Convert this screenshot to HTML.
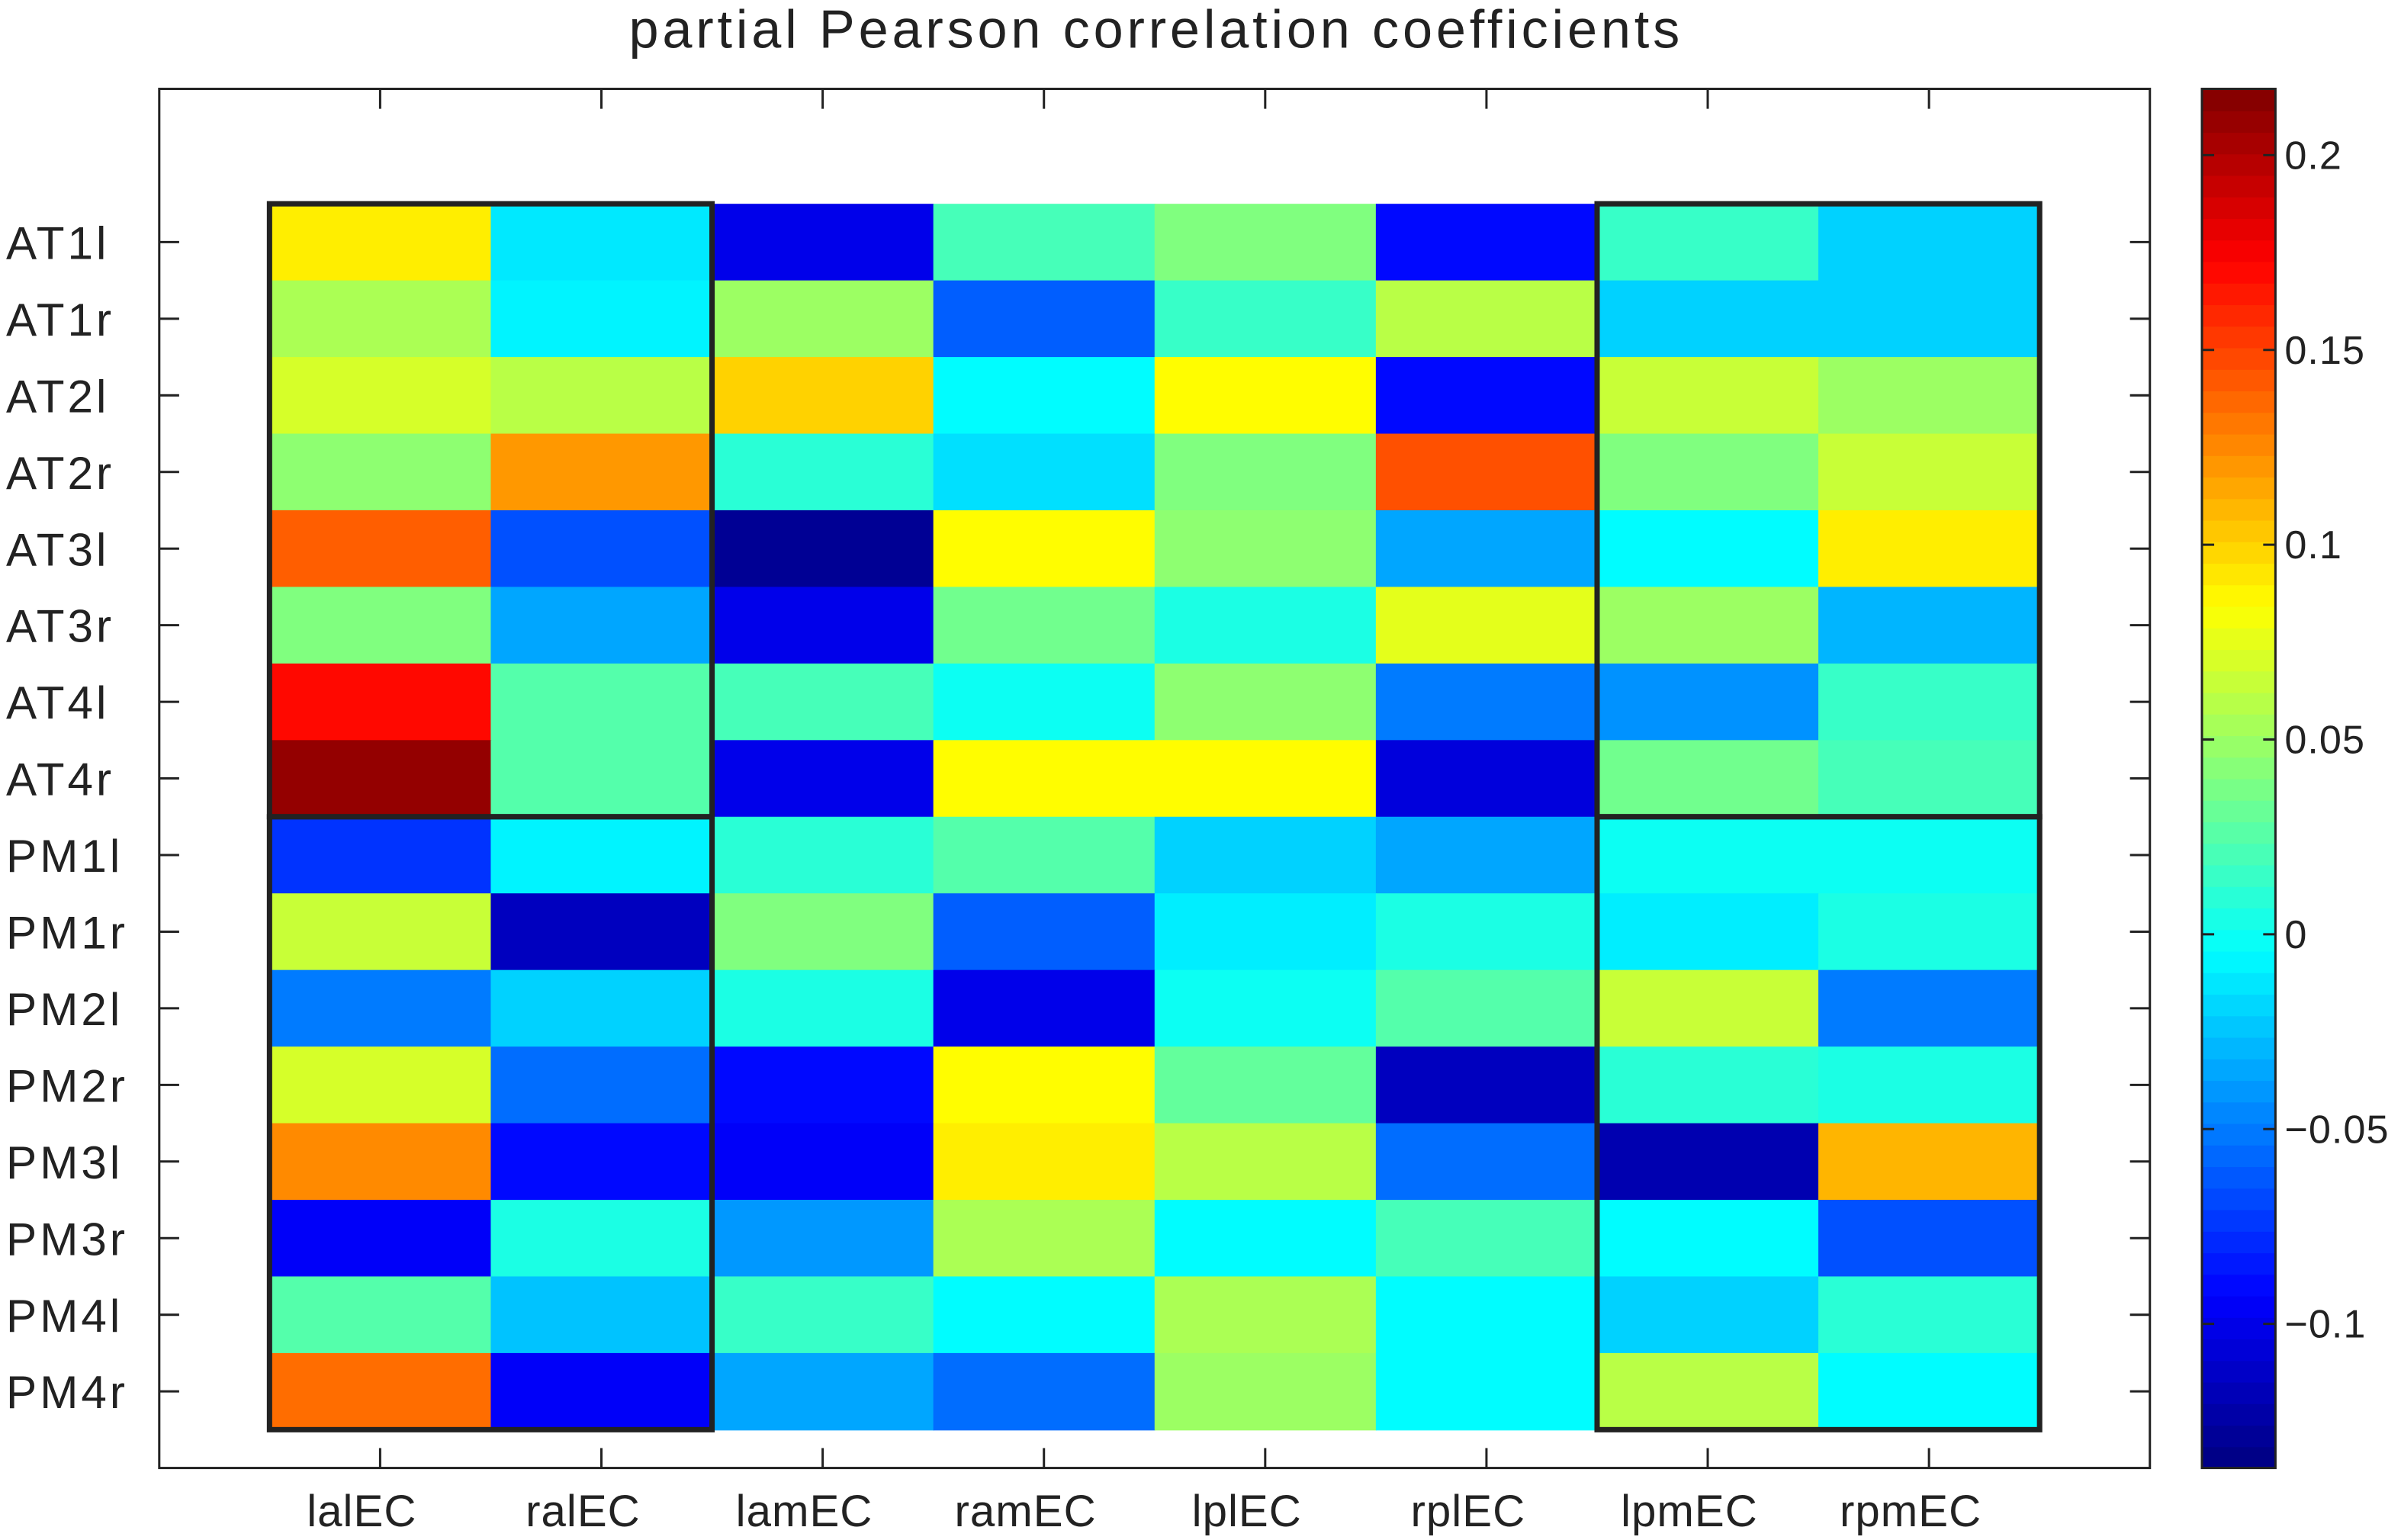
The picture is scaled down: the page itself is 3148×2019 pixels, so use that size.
<!DOCTYPE html>
<html><head><meta charset="utf-8"><style>
html,body{margin:0;padding:0;background:#fff;}
svg{display:block;font-family:"Liberation Sans",sans-serif;}
</style></head><body>
<svg id="chart" width="3148" height="2019" viewBox="0 0 1568 1005" preserveAspectRatio="none" xmlns="http://www.w3.org/2000/svg">
<rect x="0" y="0" width="1568" height="1005" fill="#fff"/>
<text x="755" y="31" font-size="35" letter-spacing="2.4" text-anchor="middle" fill="#222">partial Pearson correlation coefficients</text>
<rect x="104" y="58" width="1300" height="900" fill="none" stroke="#222" stroke-width="1.5"/>
<g id="cells"></g>
<g id="boxes"></g>
<g id="ticks"></g>
<g id="cbar"></g>
</svg>
<script>
const columns = ["lalEC","ralEC","lamEC","ramEC","lplEC","rplEC","lpmEC","rpmEC"];
const rows = ["AT1l","AT1r","AT2l","AT2r","AT3l","AT3r","AT4l","AT4r","PM1l","PM1r","PM2l","PM2r","PM3l","PM3r","PM4l","PM4r"];
const values = [
[0.09,-0.012,-0.10,0.02,0.04,-0.09,0.015,-0.02],
[0.055,-0.008,0.05,-0.06,0.015,0.06,-0.02,-0.02],
[0.07,0.06,0.10,-0.005,0.085,-0.09,0.065,0.05],
[0.045,0.12,0.01,-0.015,0.04,0.145,0.04,0.065],
[0.14,-0.065,-0.13,0.085,0.045,-0.035,-0.005,0.09],
[0.04,-0.035,-0.10,0.035,0.005,0.075,0.05,-0.03],
[0.17,0.025,0.02,0.0,0.045,-0.05,-0.042,0.015],
[0.21,0.025,-0.10,0.085,0.085,-0.105,0.035,0.02],
[-0.075,-0.008,0.01,0.025,-0.02,-0.035,0.0,0.0],
[0.065,-0.115,0.04,-0.06,-0.01,0.005,-0.01,0.005],
[-0.05,-0.02,0.005,-0.10,0.0,0.025,0.065,-0.05],
[0.07,-0.055,-0.09,0.085,0.03,-0.115,0.01,0.005],
[0.125,-0.09,-0.095,0.09,0.06,-0.055,-0.12,0.11],
[-0.095,0.005,-0.04,0.055,-0.005,0.02,-0.005,-0.065],
[0.025,-0.025,0.015,-0.005,0.055,-0.005,-0.02,0.01],
[0.135,-0.095,-0.035,-0.055,0.05,-0.005,0.06,-0.005]
];
const cbarTicks = [-0.1,-0.05,0,0.05,0.1,0.15,0.2];
const cbarTickLabels = ["\u22120.1","\u22120.05","0","0.05","0.1","0.15","0.2"];
const vmin = -0.137, vmax = 0.217;

const NS="http://www.w3.org/2000/svg";
const X0=176, X1=1332, Y0=133, Y1=933;
const cw=(X1-X0)/columns.length, rh=(Y1-Y0)/rows.length;
function xPos(i){return X0+i*cw;}
function yPos(j){return Y0+j*rh;}
function cY(v){return 958-(v-vmin)/(vmax-vmin)*900;}
function cl(a){return Math.max(0,Math.min(1,a));}
function jet(v){const t=cl((v-vmin)/(vmax-vmin));
 const r=cl(1.5-Math.abs(4*t-3)),g=cl(1.5-Math.abs(4*t-2)),b=cl(1.5-Math.abs(4*t-1));
 return `rgb(${Math.round(r*255)},${Math.round(g*255)},${Math.round(b*255)})`;}
function mk(tag,attrs,parent){const e=document.createElementNS(NS,tag);for(const k in attrs)e.setAttribute(k,attrs[k]);parent.appendChild(e);return e;}

const cells=document.getElementById('cells');
rows.forEach((rn,j)=>columns.forEach((cn,i)=>{
 const r=mk('rect',{x:xPos(i),y:yPos(j),width:cw+0.5,height:rh+0.5,fill:jet(values[j][i])},cells);
 
 
}));

const boxes=document.getElementById('boxes');
[[0,2,0,8],[0,2,8,16],[6,8,0,8],[6,8,8,16]].forEach((b,k)=>{
 const r=mk('rect',{x:xPos(b[0]),y:yPos(b[2]),width:xPos(b[1])-xPos(b[0]),height:yPos(b[3])-yPos(b[2]),fill:'none',stroke:'#222','stroke-width':3.5},boxes);
 
 
});

const ticks=document.getElementById('ticks');
rows.forEach((rn,j)=>{
 const cy=yPos(j)+rh/2;
 mk('line',{x1:104,x2:117,y1:cy,y2:cy,stroke:'#222','stroke-width':1.5},ticks);
 mk('line',{x1:1391,x2:1404,y1:cy,y2:cy,stroke:'#222','stroke-width':1.5},ticks);
 const t=mk('text',{x:4,y:cy+11,'font-size':30,'letter-spacing':2,fill:'#222'},ticks);
 t.textContent=rn;
 
 
});
columns.forEach((cn,i)=>{
 const cx=xPos(i)+cw/2;
 mk('line',{x1:cx,x2:cx,y1:945,y2:958,stroke:'#222','stroke-width':1.5},ticks);
 mk('line',{x1:cx,x2:cx,y1:58,y2:71,stroke:'#222','stroke-width':1.5},ticks);
 const t=mk('text',{x:cx-12,y:996,'font-size':29,'letter-spacing':0.5,'text-anchor':'middle',fill:'#222'},ticks);
 t.textContent=cn;
 
 
});

const cb=document.getElementById('cbar');
const g=mk('g',{},cb);


for(let k=0;k<64;k++){
 const v0=vmin+k*(vmax-vmin)/64, v1=vmin+(k+1)*(vmax-vmin)/64;
 mk('rect',{x:1438,y:cY(v1),width:48,height:cY(v0)-cY(v1)+0.5,fill:jet((v0+v1)/2)},g);
}
mk('rect',{x:1438,y:58,width:48,height:900,fill:'none',stroke:'#222','stroke-width':1.5},g);
cbarTicks.forEach((v,k)=>{
 const y=cY(v);
 mk('line',{x1:1438,x2:1446,y1:y,y2:y,stroke:'#222','stroke-width':1.5},g);
 mk('line',{x1:1478,x2:1486,y1:y,y2:y,stroke:'#222','stroke-width':1.5},g);
 const t=mk('text',{x:1492,y:y+9,'font-size':26,'letter-spacing':0.5,fill:'#222'},g);
 t.textContent=cbarTickLabels[k];
 
 
});
</script>
</body></html>
